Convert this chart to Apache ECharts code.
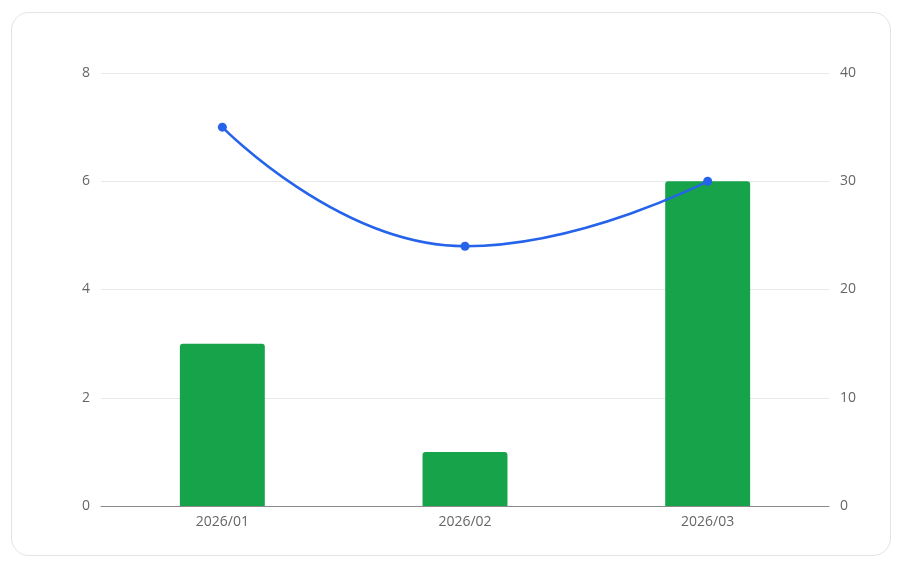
<!DOCTYPE html>
<html><head><meta charset="utf-8">
<script src="https://cdn.jsdelivr.net/npm/echarts@6/dist/echarts.min.js"></script>
<style>
html,body{margin:0;padding:0;background:#fff;}
#card{position:absolute;left:11px;top:12px;width:878px;height:542px;border:1px solid #e4e4e4;border-radius:18px;box-sizing:content-box;}
#chart{position:absolute;left:0;top:0;width:897px;height:570px;}
</style></head>
<body>
<div id="card"></div>
<div id="chart"></div>
<script>
const categories = ['2026/01', '2026/02', '2026/03'];
const barValues = [3, 1, 6];
const lineValues = [35, 24, 30];

const chart = echarts.init(document.getElementById('chart'), null, {renderer: 'canvas'});
chart.setOption({
  animation: false,
  textStyle: {fontFamily: '"Open Sans", "Noto Sans", sans-serif'},
  grid: {left: 101, right: 68, top: 73, bottom: 64, containLabel: false},
  xAxis: {
    type: 'category',
    data: categories,
    axisLine: {lineStyle: {color: '#8a8a8a'}},
    axisTick: {lineStyle: {color: '#8a8a8a'}},
    axisLabel: {color: '#666', fontSize: 14, margin: 9}
  },
  yAxis: [
    {type: 'value', min: 0, max: 8, interval: 2,
     axisLine: {show: false}, axisTick: {show: false},
     axisLabel: {color: '#666', fontSize: 14, margin: 11},
     splitLine: {lineStyle: {color: '#e8e8e8'}}},
    {type: 'value', min: 0, max: 40, interval: 10,
     axisLine: {show: false}, axisTick: {show: false},
     axisLabel: {color: '#666', fontSize: 14, margin: 11},
     splitLine: {show: false}}
  ],
  series: [
    {type: 'bar', data: barValues, yAxisIndex: 0, barWidth: '35%',
     itemStyle: {color: '#16a34a', borderRadius: [3, 3, 0, 0]}},
    {type: 'line', data: lineValues, yAxisIndex: 1, smooth: true,
     symbol: 'circle', symbolSize: 9,
     lineStyle: {color: '#2563eb', width: 2.5},
     itemStyle: {color: '#2563eb'}}
  ]
});
</script>
</body></html>
